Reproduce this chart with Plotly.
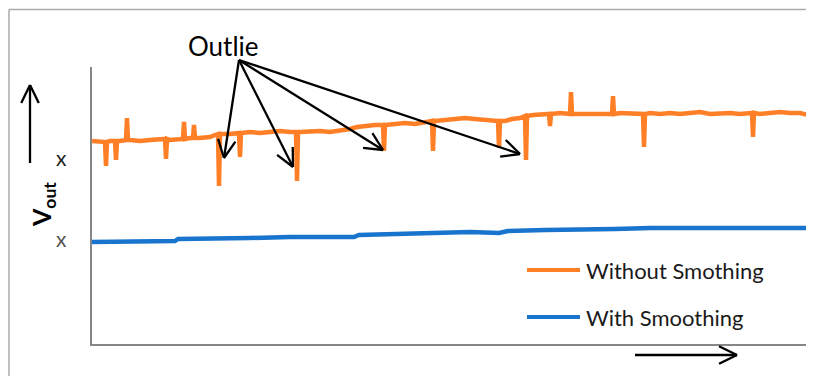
import math
import plotly.graph_objects as go

# ---- data (sample index, output in arbitrary units) ----
orange_t = [0, 8, 13, 14, 15, 18, 23, 24, 25, 28, 34, 35, 36, 38, 48, 58, 68, 73, 74, 75,
            78, 88, 91, 92, 93, 98, 101, 102, 103, 108, 118, 123, 126, 127, 128, 138, 147, 148, 149, 158,
            168, 178, 188, 198, 204, 205, 206, 208, 218, 228, 238, 248, 258, 265, 273, 283, 291, 292, 293, 303,
            313, 323, 333, 340, 341, 342, 353, 363, 373, 383, 393, 403, 406, 407, 408, 413, 420, 428, 433, 434,
            435, 441, 448, 457, 458, 459, 468, 478, 479, 480, 488, 498, 508, 520, 521, 522, 528, 538, 551, 552,
            553, 558, 568, 578, 588, 598, 608, 618, 628, 638, 648, 660, 661, 662, 668, 678, 688, 698, 708, 716]
orange_v = [203, 202, 202, 178, 202, 203, 203, 184, 203, 203, 204, 226, 204, 204, 203, 204, 205, 205, 185, 205,
            204, 205, 205, 222, 205, 206, 206, 219, 206, 206, 207, 209, 210, 158, 210, 210, 211, 187, 211, 212,
            211, 212, 213, 212, 212, 163, 212, 212, 213, 213, 212, 213, 215, 217, 218, 219, 219, 193, 219, 220,
            221, 220, 222, 223, 193, 223, 224, 225, 226, 225, 224, 223, 223, 196, 223, 223, 225, 226, 228, 184,
            228, 229, 229, 230, 218, 230, 231, 230, 252, 230, 230, 230, 231, 230, 248, 230, 231, 231, 230, 197,
            230, 231, 230, 231, 230, 231, 232, 230, 231, 231, 230, 231, 207, 231, 230, 231, 232, 231, 231, 229]

blue_t = [0, 28, 58, 83, 86, 118, 158, 198, 228, 262, 267, 308, 351, 378, 407, 416, 453, 488, 523, 558,
          593, 628, 668, 698, 714]
blue_v = [102, 102, 103, 103, 105, 105, 106, 107, 107, 107, 109, 110, 111, 112, 111, 113, 114, 114, 115, 116,
          116, 116, 116, 117, 116]

series_names = ["Without Smothing", "With Smoothing"]
series_colors = ["#FF7F27", "#1874CD"]
ytick_vals = [187, 106]
ytick_text = ["x", "x"]
annotation_text = "Outlie"

# ---- layout geometry (pixels in the 814x376 window) ----
OFF = 8  # page body margin
W, H = 814 - OFF, 376 - OFF
L, R, T, B = 92, 808, 67, 344
FONT = "Lato, 'Open Sans', sans-serif"


def px(x):
    return (x - L) / (R - L)


def py(y):
    return (B - y) / (B - T)


fig = go.Figure()
fig.add_trace(go.Scatter(x=orange_t, y=orange_v, mode="lines", name=series_names[0],
                         line=dict(color=series_colors[0], width=4.5), showlegend=False))
fig.add_trace(go.Scatter(x=blue_t, y=blue_v, mode="lines", name=series_names[1],
                         line=dict(color=series_colors[1], width=4.5), showlegend=False))

shapes = []
annotations = []


def seg(x0, y0, x1, y1, color="black", width=2.3):
    shapes.append(dict(type="line", xref="paper", yref="paper",
                       x0=px(x0), y0=py(y0), x1=px(x1), y1=py(y1),
                       line=dict(color=color, width=width)))


def arrow(x0, y0, x1, y1, head=20, ang=26):
    seg(x0, y0, x1, y1)
    a = math.atan2(y0 - y1, x0 - x1)
    for s in (-1, 1):
        b = a + s * math.radians(ang)
        seg(x1, y1, x1 + head * math.cos(b), y1 + head * math.sin(b))


# outer frame
seg(9, 9.5, 814, 9.5, color="#ABABAB", width=1.5)
seg(9, 9.5, 9, 376, color="#ABABAB", width=1.5)

# outlier arrows
for (ex, ey) in [(224, 158), (293, 167), (383, 150), (520, 154)]:
    arrow(239, 60, ex, ey)

# axis direction arrows
arrow(30, 163, 30, 85)
arrow(635, 355, 737, 355)

# legend (drawn)
for i, (name, col) in enumerate(zip(series_names, series_colors)):
    yy = 270 + i * 47
    seg(527, yy, 580, yy, color=col, width=4)
    annotations.append(dict(xref="paper", yref="paper", x=px(584), y=py(yy), text=name,
                            showarrow=False, xanchor="left", yanchor="middle",
                            font=dict(family=FONT, size=22, color="#1a1a1a")))

# y tick labels "x"
for v, t, c in zip(ytick_vals, ytick_text, ["#222222", "#555555"]):
    annotations.append(dict(xref="paper", yref="y", x=px(69), y=v, text=t, showarrow=False,
                            xanchor="right", yanchor="middle",
                            font=dict(family=FONT, size=21, color=c)))

annotations.append(dict(xref="paper", yref="paper", x=px(223), y=py(46), text=annotation_text,
                        showarrow=False, xanchor="center", yanchor="middle",
                        font=dict(family=FONT, size=26, color="black")))
annotations.append(dict(xref="paper", yref="paper", x=px(43), y=py(205), text="<b>V<sub>out</sub></b>",
                        showarrow=False, textangle=-90, xanchor="center", yanchor="middle",
                        font=dict(family=FONT, size=25, color="black")))

fig.update_layout(
    width=W, height=H, autosize=False,
    margin=dict(l=L - OFF, r=814 - R, t=T - OFF, b=376 - B, pad=0),
    paper_bgcolor="white", plot_bgcolor="white",
    shapes=shapes, annotations=annotations,
    xaxis=dict(range=[0, 716], showgrid=False, zeroline=False, showticklabels=False,
               showline=True, linecolor="#868686", linewidth=2, ticks=""),
    yaxis=dict(range=[0, 277], showgrid=False, zeroline=False, showticklabels=False,
               showline=True, linecolor="#868686", linewidth=2, ticks=""),
    showlegend=False,
)

fig.write_html("out.html")
